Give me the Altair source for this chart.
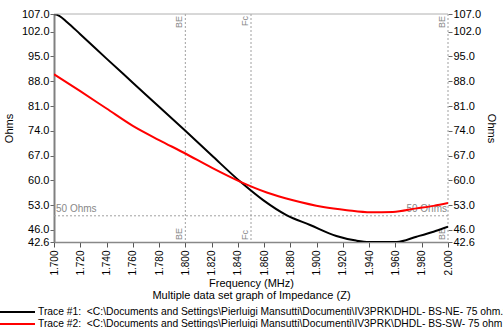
import altair as alt
import pandas as pd

# ---- data ----
freq_black = [1.700, 1.704, 1.710, 1.720, 1.740, 1.760, 1.780, 1.800, 1.820, 1.842,
              1.859, 1.877, 1.895, 1.915, 1.930, 1.940, 1.950, 1.961, 1.976,
              1.989, 2.000]
ohms_black = [107.0, 106.5, 104.7, 101.3, 94.4, 87.6, 80.8, 74.0, 67.1, 59.6,
              54.5, 50.2, 47.4, 44.3, 43.0, 42.6, 42.6, 42.6, 44.1,
              45.5, 46.9]

freq_red = [1.700, 1.720, 1.740, 1.760, 1.780, 1.800, 1.820, 1.842, 1.862, 1.882,
            1.905, 1.923, 1.941, 1.958, 1.976, 1.989, 2.000]
ohms_red = [90.0, 85.2, 80.3, 75.4, 71.4, 67.6, 63.6, 59.6, 56.6, 54.4,
            52.5, 51.6, 51.0, 51.1, 52.1, 52.8, 53.6]

trace_labels = [
    "Trace #1:\u00a0 <C:\\Documents and Settings\\Pierluigi Mansutti\\Documenti\\IV3PRK\\DHDL- BS-NE- 75 ohm.fzz>",
    "Trace #2:\u00a0 <C:\\Documents and Settings\\Pierluigi Mansutti\\Documenti\\IV3PRK\\DHDL- BS-SW- 75 ohm.fzz>",
]
trace_colors = ["#000000", "#ff0000"]

x_ticks = [1.700, 1.720, 1.740, 1.760, 1.780, 1.800, 1.820, 1.840, 1.860, 1.880,
           1.900, 1.920, 1.940, 1.960, 1.980, 2.000]
y_ticks = [42.6, 46.0, 53.0, 60.0, 67.0, 74.0, 81.0, 88.0, 95.0, 102.0, 107.0]

marker_freqs = [1.800, 1.850, 2.000]
marker_labels = ["BE", "Fc", "BE"]
ref_ohms = [50]
ref_label = "50 Ohms"

x_title = ["Frequency (MHz)", "Multiple data set graph of Impedance (Z)"]
y_title = "Ohms"

# ---- chart ----
FONT = "Liberation Sans"
xscale = alt.Scale(domain=[1.7, 2.0], nice=False, zero=False)
yscale = alt.Scale(domain=[42.6, 107.0], nice=False, zero=False)

xaxis = alt.Axis(values=x_ticks, format=".3f", labelAngle=270, labelFontSize=10,
                 labelPadding=3, tickSize=5, tickColor="#555555", labelOverlap=False,
                 domainColor="#888888", domainWidth=1.5, grid=False,
                 title=x_title, titleFontSize=11, titleFontWeight="normal",
                 titlePadding=2, titleLineHeight=12, labelColor="#000000",
                 titleColor="#000000")
left_axis = alt.Axis(values=y_ticks, format=".1f", orient="left", tickSize=4,
                     labelPadding=1, labelFontSize=11, tickColor="#666666",
                     labelOverlap=False,
                     domainColor="#808080", domainWidth=2, grid=False,
                     title=y_title, titleFontSize=11, titleFontWeight="normal",
                     titlePadding=7, labelColor="#000000", titleColor="#000000")
right_axis = alt.Axis(values=y_ticks, format=".1f", orient="right", tickSize=4,
                      labelPadding=1, labelFontSize=11, tickColor="#666666",
                      labelOverlap=False, domain=False, grid=False,
                      title=y_title, titleFontSize=11, titleFontWeight="normal",
                      titlePadding=5, labelColor="#000000", titleColor="#000000")

df_black = pd.DataFrame({"freq": freq_black, "ohms": ohms_black})
df_red = pd.DataFrame({"freq": freq_red, "ohms": ohms_red})
df_mark = pd.DataFrame({"freq": marker_freqs, "lab": marker_labels})
df_ref = pd.DataFrame({"ohms": ref_ohms, "lab": [ref_label]})

vlines = alt.Chart(df_mark).mark_rule(color="#a0a0a0", strokeDash=[2, 2], strokeWidth=1).encode(
    x=alt.X("freq:Q", scale=xscale, axis=xaxis)
)
hline = alt.Chart(df_ref).mark_rule(color="#a0a0a0", strokeDash=[2, 2], strokeWidth=1).encode(
    y=alt.Y("ohms:Q", scale=yscale, axis=left_axis)
)
top_lab = alt.Chart(df_mark).mark_text(angle=270, align="right", baseline="bottom",
                                       fontSize=9, color="#888888", font=FONT, dy=-1.5).encode(
    x=alt.X("freq:Q", scale=xscale, axis=xaxis), y=alt.value(2), text="lab:N")
bot_lab = alt.Chart(df_mark).mark_text(angle=270, align="left", baseline="bottom",
                                       fontSize=9, color="#888888", font=FONT, dy=-1.5).encode(
    x=alt.X("freq:Q", scale=xscale, axis=xaxis), y=alt.value(226), text="lab:N")
ref_left = alt.Chart(df_ref).mark_text(align="left", baseline="bottom", fontSize=10,
                                       color="#888888", font=FONT, dy=-2).encode(
    x=alt.value(2), y=alt.Y("ohms:Q", scale=yscale, axis=left_axis), text="lab:N")
ref_right = alt.Chart(df_ref).mark_text(align="right", baseline="bottom", fontSize=10,
                                        color="#888888", font=FONT, dy=-2).encode(
    x=alt.value(393), y=alt.Y("ohms:Q", scale=yscale, axis=left_axis), text="lab:N")

line_black = alt.Chart(df_black).mark_line(color=trace_colors[0], strokeWidth=2, clip=True,
                                           interpolate="monotone").encode(
    x=alt.X("freq:Q", scale=xscale, axis=xaxis), y=alt.Y("ohms:Q", scale=yscale, axis=left_axis))
line_red = alt.Chart(df_red).mark_line(color=trace_colors[1], strokeWidth=2, clip=True,
                                       interpolate="monotone").encode(
    x=alt.X("freq:Q", scale=xscale, axis=xaxis), y=alt.Y("ohms:Q", scale=yscale, axis=left_axis))

legend_layers = []
for i, (lab, col) in enumerate(zip(trace_labels, trace_colors)):
    dfl = pd.DataFrame({"lab": [lab]})
    legend_layers.append(
        alt.Chart(dfl).mark_rule(color=col, strokeWidth=2).encode(
            x=alt.value(-54), x2=alt.value(-19), y=alt.value(298 + 12 * i)))
    legend_layers.append(
        alt.Chart(dfl).mark_text(align="left", baseline="middle", fontSize=10.3,
                                 color="#000000", font=FONT).encode(
            x=alt.value(-16), y=alt.value(298 + 12 * i), text="lab:N"))

inner = alt.layer(vlines, hline, top_lab, bot_lab, ref_left, ref_right,
                  line_black, line_red, *legend_layers)

top_border = alt.Chart(pd.DataFrame({"ohms": [107.0]})).mark_rule(
    color="#b0b0b0", strokeWidth=1).encode(
    y=alt.Y("ohms:Q", scale=yscale, axis=right_axis))

chart = alt.layer(inner, top_border).resolve_scale(y="independent").properties(
    width=394, height=228,
    autosize=alt.AutoSizeParams(type="none"),
    padding={"left": 54, "top": 14, "right": 55, "bottom": 86},
).configure(font=FONT).configure_view(stroke=None).configure_axis(labelOverlap=False)

chart.save("out.html", embed_options={"renderer": "svg", "actions": False})
